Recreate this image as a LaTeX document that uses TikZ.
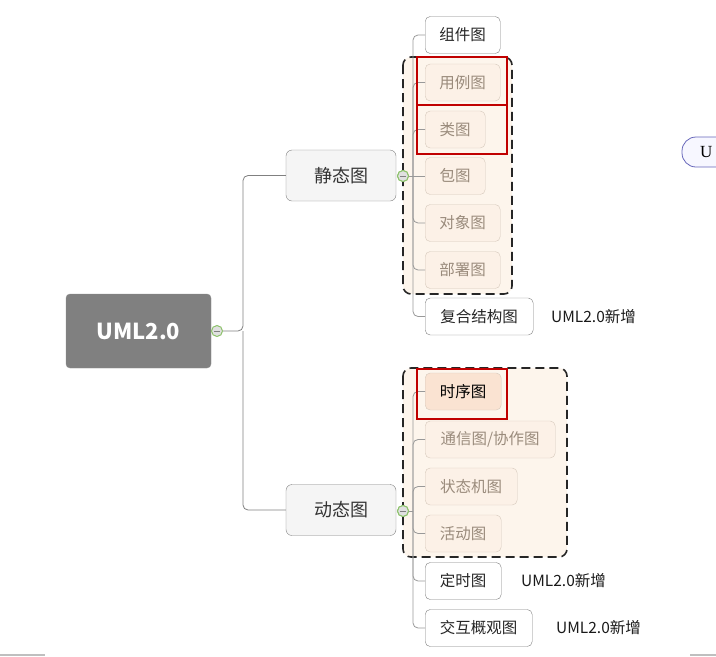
\documentclass[tikz,border=0pt]{standalone}
\usepackage{fontspec}
\setmainfont{Noto Sans CJK SC}
\newfontfamily\serifU{Liberation Serif}
\definecolor{fadetext}{HTML}{9A8B7C}
\definecolor{fadedraw}{HTML}{D6C9BC}
\definecolor{fadefill}{HTML}{FCF1E7}
\definecolor{groupfill}{HTML}{FDF5EC}
\definecolor{hotfill}{HTML}{FAE3D2}
\definecolor{circgreen}{HTML}{8CC26A}
\definecolor{redline}{HTML}{C00000}
\begin{document}
\begin{tikzpicture}[x=1pt,y=-1pt,
  conn/.style={draw=black!50,line width=0.8pt,rounded corners=5pt},
  rootbox/.style={draw=black!45,fill=black!50,rounded corners=4pt,minimum width=145pt,minimum height=74pt,text=white,font=\fontsize{22}{24}\selectfont\bfseries,inner sep=0pt},
  lvbox/.style={draw=black!50,fill=black!4,rounded corners=6pt,minimum width=110pt,minimum height=51pt,font=\fontsize{18}{20}\selectfont,text=black!80,inner sep=0pt},
  leaf/.style={draw=black!50,fill=white,rounded corners=5pt,minimum height=37pt,font=\fontsize{15.5}{18}\selectfont,text=black!85,inner sep=0pt,anchor=west},
  fade/.style={leaf,draw=fadedraw,fill=fadefill,text=fadetext},
  hot/.style={leaf,draw=fadedraw,fill=hotfill,text=black},
  newlbl/.style={font=\fontsize{15.5}{18}\selectfont,text=black!90,anchor=west,inner sep=0pt},
  circ/.style={circle,draw=circgreen,fill=black!12,line width=1pt,minimum size=11pt,inner sep=0pt,
    path picture={\draw[black!50,line width=1pt] ([xshift=-3pt]path picture bounding box.center) -- ([xshift=3pt]path picture bounding box.center);}},
  dashbox/.style={draw=black!85,dash pattern=on 9pt off 5pt,line width=1.6pt,fill=groupfill,rounded corners=8pt},
  redbox/.style={draw=redline,line width=1.5pt}
]
\useasboundingbox (0,0) rectangle (716,657);

% bottom edge marks
\draw[black!25,line width=1.5pt] (0,655) -- (45,655);
\draw[black!25,line width=1.5pt] (690,655) -- (716,655);

% partial node at right
\begin{scope}
\clip (0,0) rectangle (716,657);
\draw[draw=blue!55!black!60,fill=blue!3,rounded corners=14pt,line width=0.8pt] (682,137) rectangle (760,167);
\node[font=\serifU\fontsize{17}{20}\selectfont,anchor=west,inner sep=0pt] (u) at (700,152) {U};
\end{scope}

% dashed group boxes
\path[dashbox] (403,57) rectangle (512,294);
\path[dashbox] (403,368) rectangle (567,557);

% root
\node[rootbox] (root) at (138.5,331) {UML2.0};
\node[circ] (rc) at (217,331) {};
\coordinate (rj) at (243,331);

% second level
\node[lvbox] (st) at (341,175.5) {静态图};
\node[lvbox] (dy) at (341,510) {动态图};
\draw[conn] (rc.east) -- (rj) |- (st.west);
\draw[conn] (rj) |- (dy.west);
\node[circ] (sc) at (403,176) {};
\node[circ] (dc) at (403,511) {};

% static children
\node[leaf,minimum width=75pt] (n1) at (425,35) {组件图};
\node[fade,minimum width=75pt] (n2) at (425,82.5) {用例图};
\node[fade,minimum width=60pt] (n3) at (425,129.5) {类图};
\node[fade,minimum width=60pt] (n4) at (425,176) {包图};
\node[fade,minimum width=75pt] (n5) at (425,223) {对象图};
\node[fade,minimum width=75pt] (n6) at (425,270) {部署图};
\node[leaf,minimum width=108pt] (n7) at (425,316.5) {复合结构图};
\node[newlbl] (l1) at (551,317) {UML2.0新增};

\coordinate (sj) at (413,176);
\draw[conn,draw=black!40] (sc.east) -- (n4.west);
\foreach \n in {n1,n2,n3,n5,n6,n7} \draw[conn,draw=black!40] (sj) |- (\n.west);

\draw[redbox] (417,57) rectangle (507,105);
\draw[redbox] (417,105) rectangle (507,154);

% dynamic children
\node[hot,minimum width=76pt] (m1) at (425,391.5) {时序图};
\node[fade,minimum width=130pt] (m2) at (425,439.5) {通信图/协作图};
\node[fade,minimum width=92pt] (m3) at (425,486.5) {状态机图};
\node[fade,minimum width=76pt] (m4) at (425,533.5) {活动图};
\node[leaf,minimum width=76pt] (m5) at (425,581) {定时图};
\node[leaf,minimum width=107pt] (m6) at (425,628) {交互概观图};
\node[newlbl] (l2) at (521,581) {UML2.0新增};
\node[newlbl] (l3) at (556,628) {UML2.0新增};

\coordinate (dj) at (413,511);
\draw[conn,draw=black!40] (dc.east) -- (dj);
\foreach \n in {m1,m2,m3,m4,m5,m6} \draw[conn,draw=black!40] (dj) |- (\n.west);

\draw[redbox] (417,369) rectangle (507,419);

% redraw circles on top
\node[circ] at (403,176) {};
\node[circ] at (403,511) {};
\end{tikzpicture}
\end{document}
